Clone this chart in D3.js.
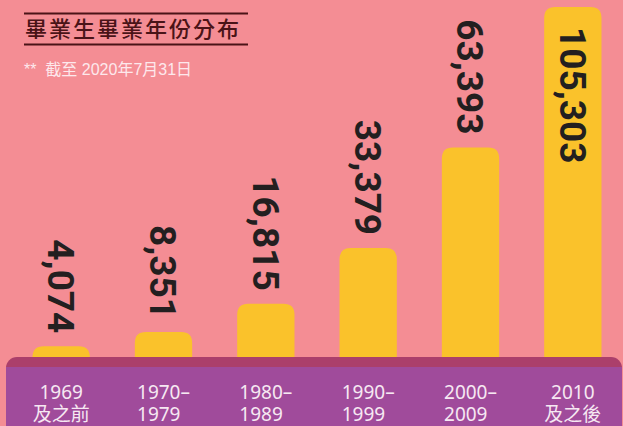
<!DOCTYPE html>
<html>
<head>
<meta charset="utf-8">
<script src="https://cdn.jsdelivr.net/npm/d3@7"></script>
<style>
  html, body { margin: 0; padding: 0; background: #f48d94; }
  svg { display: block; }
  .tick-label { font-family: "Noto Sans", "Noto Sans CJK TC", sans-serif; font-size: 19px; fill: #f6e8f2; }
</style>
</head>
<body>
<div id="chart"></div>
<script>
// Data
const categories = ["1969|及之前", "1970–|1979", "1980–|1989", "1990–|1999", "2000–|2009", "2010|及之後"];
const graduates = [4074, 8351, 16815, 33379, 63393, 105303];
const titleText = "畢業生畢業年份分布";
const noteText = "**  截至 2020年7月31日";

const W = 623, H = 426;
const baseline = 360;

const svg = d3.select("#chart").append("svg")
  .attr("width", W)
  .attr("height", H);

svg.append("rect").attr("width", W).attr("height", H).attr("fill", "#f48d94");

// Scales
const x = d3.scaleBand()
  .domain(categories)
  .range([10, 624])
  .paddingInner(0.44)
  .paddingOuter(0.22);

const y = d3.scaleLinear()
  .domain([0, d3.max(graduates)])
  .range([baseline, 7]);

const data = categories.map((c, i) => ({ cat: c, value: graduates[i] }));

// Bars with rounded tops (extend below band)
const r = 11;
svg.append("g").selectAll("path")
  .data(data)
  .join("path")
    .attr("fill", "#fac22b")
    .attr("d", d => {
      const x0 = x(d.cat), x1 = x0 + x.bandwidth();
      const top = y(d.value), bot = baseline + 20;
      const rr = Math.min(r, (bot - top) / 2);
      return `M${x0},${bot}V${top + rr}Q${x0},${top} ${x0 + rr},${top}H${x1 - rr}Q${x1},${top} ${x1},${top + rr}V${bot}Z`;
    });

// Value labels, rotated
const fmt = d3.format(",");
const last = data.length - 1;
svg.append("g").selectAll("text")
  .data(data)
  .join("text")
    .attr("transform", (d, i) => {
      const cx = x(d.cat) + x.bandwidth() / 2;
      const ty = i === last ? y(d.value) + 20 : y(d.value) - 13;
      return `translate(${cx},${ty}) rotate(90)`;
    })
    .attr("text-anchor", (d, i) => i === last ? "start" : "end")
    .attr("dy", "0.36em")
    .style("font-family", "Roboto, 'Noto Sans', sans-serif")
    .style("font-weight", 700)
    .style("font-size", "37px")
    .attr("fill", "#231f20")
    .text(d => fmt(d.value));

// Bottom band
svg.append("rect")
  .attr("x", 6).attr("y", 357)
  .attr("width", 616).attr("height", 90)
  .attr("rx", 11)
  .attr("fill", "#ab3f6b");
svg.append("rect")
  .attr("x", 6).attr("y", 367)
  .attr("width", 616).attr("height", 80)
  .attr("fill", "#a04b9b");

// Axis
const axis = svg.append("g")
  .attr("transform", `translate(0,399)`)
  .call(d3.axisBottom(x).tickSize(0).tickPadding(0));
axis.attr("font-family", null).attr("font-size", null);
axis.select(".domain").remove();
axis.selectAll(".tick text")
  .attr("class", "tick-label")
  .attr("y", 0)
  .attr("dy", 0)
  .attr("fill", null)
  .each(function(d) {
    const parts = d.split("|");
    const t = d3.select(this).text(null).attr("text-anchor", "start");
    const t1 = t.append("tspan").attr("x", 0).attr("y", 0).text(parts[0]);
    const t2 = t.append("tspan").attr("x", 0).attr("y", 22).text(parts[1]);
    const w1 = t1.node().getComputedTextLength();
    const w2 = t2.node().getComputedTextLength();
    t1.attr("x", -w1 / 2);
    t2.attr("x", parts[0].includes("–") ? -w1 / 2 : -w2 / 2);
  });

// Title
const titleColor = "#4a1317";
svg.append("line").attr("x1", 24).attr("x2", 248).attr("y1", 13.5).attr("y2", 13.5)
  .attr("stroke", titleColor).attr("stroke-width", 2);
svg.append("line").attr("x1", 24).attr("x2", 248).attr("y1", 44.5).attr("y2", 44.5)
  .attr("stroke", titleColor).attr("stroke-width", 2);
svg.append("text")
  .attr("x", 25).attr("y", 37)
  .style("font-family", "'Noto Sans CJK TC', sans-serif")
  .style("font-size", "22px")
  .style("font-weight", 500)
  .attr("letter-spacing", 2)
  .attr("fill", titleColor)
  .text(titleText);

svg.append("text")
  .attr("x", 24).attr("y", 75)
  .style("font-family", "'Liberation Sans', 'Noto Sans CJK TC', sans-serif")
  .style("font-size", "16px")
  .style("font-weight", 400)
  .attr("fill", "#fde8ec")
  .style("white-space", "pre")
  .text(noteText);
</script>
</body>
</html>
